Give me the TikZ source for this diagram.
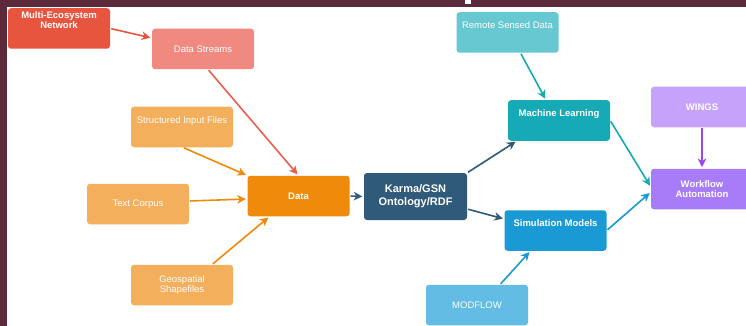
\documentclass[tikz,border=0pt]{standalone}
\usepackage{fontspec}
\setmainfont{Liberation Sans}
\usetikzlibrary{arrows.meta}
\definecolor{frame}{HTML}{5C2A3A}
\definecolor{cMulti}{HTML}{E8553F}
\definecolor{cStream}{HTML}{F08A80}
\definecolor{cStreamArrow}{HTML}{E8604F}
\definecolor{cInput}{HTML}{F4AF5D}
\definecolor{cData}{HTML}{EF8A0B}
\definecolor{cKarma}{HTML}{2F5A7A}
\definecolor{cRemote}{HTML}{66C8D0}
\definecolor{cML}{HTML}{15AAB5}
\definecolor{cSim}{HTML}{1A9AD4}
\definecolor{cModflow}{HTML}{62BCE3}
\definecolor{cWings}{HTML}{C6A2FB}
\definecolor{cWorkflow}{HTML}{A87BF8}
\definecolor{cPurpleArrow}{HTML}{9A45EE}
\begin{document}
\begin{tikzpicture}[x=1pt,y=-1pt,
  box/.style={rounded corners=3pt, minimum width=102pt, minimum height=40.5pt,
    inner sep=0pt, text=white, align=center,
    font=\fontsize{9.5}{10.5}\selectfont},
  boldbox/.style={box, font=\fontsize{9.5}{10.5}\selectfont\bfseries},
  toptext/.style={text height=7pt, text depth=15pt},
  link/.style={line width=1.6pt, -{Stealth[length=8.5pt,width=8.5pt,inset=2.5pt]},
    shorten >=1.5pt, shorten <=1pt}]

% frame and canvas
\fill[frame] (0,0) rectangle (746,326);
\fill[white] (7,7) rectangle (746,326);
\fill[white] (465,0) rectangle (471,4);
\useasboundingbox (0,0) rectangle (746,326);

% sources
\node[boldbox, fill=cMulti, text height=17.5pt, text depth=16.7pt] (ms) at (59,28.5) {Multi-Ecosystem\\Network};
\node[box, fill=cStream] (ds) at (203,49) {Data Streams};
\node[box, fill=cInput, toptext] (sif) at (182,127) {Structured Input Files};
\node[box, fill=cInput] (tc) at (138,204) {Text Corpus};
\node[box, fill=cInput] (geo) at (182,285) {Geospatial\\Shapefiles};

% core
\node[boldbox, fill=cData] (data) at (298.5,196) {Data};
\node[box, fill=cKarma, minimum width=103pt, minimum height=47pt,
  font=\fontsize{11}{13}\selectfont\bfseries] (karma) at (415.5,196.5) {Karma/GSN\\Ontology/RDF};

% modelling
\node[box, fill=cRemote, toptext] (rs) at (507.5,32.5) {Remote Sensed Data};
\node[boldbox, fill=cML, toptext] (ml) at (559,120.5) {Machine Learning};
\node[boldbox, fill=cSim, toptext] (sim) at (555.5,230.5) {Simulation Models};
\node[box, fill=cModflow] (mod) at (477,305) {MODFLOW};

% workflow
\node[boldbox, fill=cWings] (wings) at (702,107) {WINGS};
\node[boldbox, fill=cWorkflow] (wf) at (702,189) {Workflow\\Automation};

% connectors
\draw[link, cMulti] (ms.east) -- ([yshift=11pt]ds.west);
\draw[link, cStreamArrow] ([xshift=5pt]ds.south) -- (data.north);
\draw[link, cData] ([xshift=1pt]sif.south) -- (data.north west);
\draw[link, cData] ([yshift=3pt]tc.east) -- ([yshift=-3pt]data.west);
\draw[link, cData] ([xshift=30pt]geo.north) -- ([xshift=-29pt]data.south);
\draw[link, cKarma] (data.east) -- (karma.west);
\draw[link, cKarma] (karma.north east) -- ([xshift=9pt]ml.south west);
\draw[link, cKarma] ([yshift=-12.5pt]karma.east) -- ([yshift=11.5pt]sim.west);
\draw[link, cML] ([xshift=13pt]rs.south) -- ([xshift=-13pt]ml.north);
\draw[link, cML] (ml.east) -- ([yshift=2pt]wf.west);
\draw[link, cSim] (sim.east) -- ([yshift=-3pt]wf.west);
\draw[link, cSim] ([xshift=23pt]mod.north) -- ([xshift=-25pt]sim.south);
\draw[link, cPurpleArrow] (wings.south) -- (wf.north);
\end{tikzpicture}
\end{document}
